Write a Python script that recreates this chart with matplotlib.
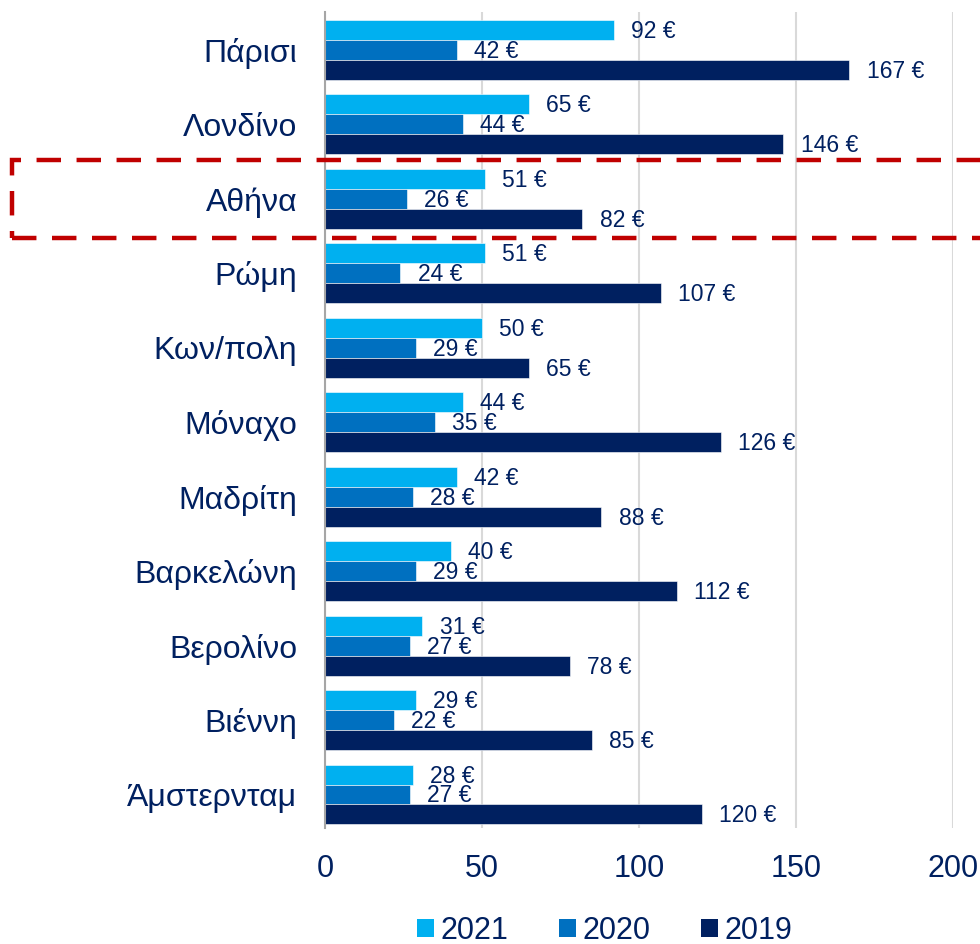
import matplotlib.pyplot as plt
import numpy as np
from matplotlib.patches import Rectangle, Patch

plt.rcParams['font.family'] = ['Liberation Sans', 'DejaVu Sans']

cities = ["Πάρισι", "Λονδίνο", "Αθήνα", "Ρώμη", "Κων/πολη", "Μόναχο",
          "Μαδρίτη", "Βαρκελώνη", "Βερολίνο", "Βιέννη", "Άμστερνταμ"]
prices_2021 = [92, 65, 51, 51, 50, 44, 42, 40, 31, 29, 28]
prices_2020 = [42, 44, 26, 24, 29, 35, 28, 29, 27, 22, 27]
prices_2019 = [167, 146, 82, 107, 65, 126, 88, 112, 78, 85, 120]
years = ["2021", "2020", "2019"]
colors = ["#00B0F0", "#0070C0", "#002060"]
text_color = "#002060"

fig = plt.figure(figsize=(9.8, 9.44), dpi=100)
ax = fig.add_axes([0.3316, 0.1229, 0.6408, 0.8644])

y = np.arange(len(cities))
h = 0.268
series = [prices_2021, prices_2020, prices_2019]
for k, (vals, col) in enumerate(zip(series, colors)):
    pos = y + (k - 1) * h
    ax.barh(pos, vals, height=h, color=col, edgecolor="white",
            linewidth=0.4, zorder=3)
    for p, v in zip(pos, vals):
        ax.text(v + 5.5, p + 0.02, f"{v} €", va="center", ha="left",
                fontsize=16.5, color=text_color, zorder=4)

ax.set_xlim(0, 200)
ax.set_ylim(10.45, -0.51)
ax.set_xticks([0, 50, 100, 150, 200])
ax.set_yticks(y)
ax.set_yticklabels(cities)
ax.tick_params(axis="y", length=0, pad=20, labelsize=23, labelcolor=text_color)
ax.tick_params(axis="x", length=0, pad=19, labelsize=22, labelcolor=text_color)
ax.grid(axis="x", color="#D9D9D9", linewidth=1.5, zorder=0)
for s in ["top", "right", "bottom"]:
    ax.spines[s].set_visible(False)
ax.spines["left"].set_color("#A6A6A6")
ax.spines["left"].set_linewidth(1.5)
ax.spines["left"].set_zorder(5)

# highlight box around Athens
W, H = 980, 944
box = Rectangle((12 / W, 1 - 238 / H), 1.05, 78 / H, transform=fig.transFigure,
                fill=False, edgecolor="#C00000", linewidth=3.2,
                linestyle=(0, (5.5, 3.5)), clip_on=False, zorder=10)
fig.patches.append(box)

handles = [Patch(facecolor=c, label=l) for c, l in zip(colors, years)]
leg = fig.legend(handles=handles, loc="center", bbox_to_anchor=(0.617, 0.0138),
                 ncol=3, frameon=False, fontsize=22, handlelength=0.56,
                 handleheight=0.56, handletextpad=0.23, columnspacing=1.63,
                 labelcolor=text_color, borderpad=0)

fig.savefig("out.png", dpi=100)
